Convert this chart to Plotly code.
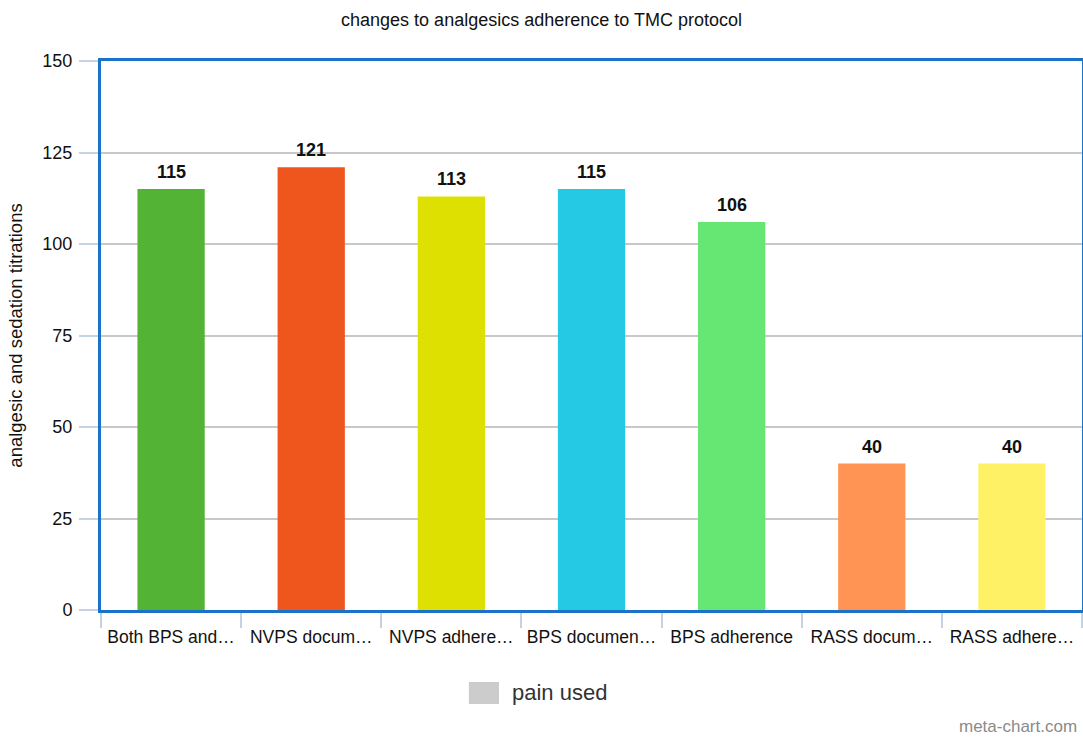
import plotly.graph_objects as go

# Chart data
categories = ["Both BPS and\u2026", "NVPS docum\u2026", "NVPS adhere\u2026", "BPS documen\u2026",
              "BPS adherence", "RASS docum\u2026", "RASS adhere\u2026"]
values = [115, 121, 113, 115, 106, 40, 40]
bar_colors = ["#52b334", "#ee561e", "#dde000", "#26c9e3", "#66e673", "#ff9455", "#fff166"]
y_ticks = [0, 25, 50, 75, 100, 125, 150]
series_name = "pain used"
legend_color = "#cccccc"

FONT = "Liberation Sans, Arial, sans-serif"
BORDER = "#1a72c9"
TICK = "#c3d3e3"

fig = go.Figure()
fig.add_trace(go.Bar(
    x=categories, y=values,
    marker=dict(color=bar_colors, line=dict(width=0)),
    width=0.48,
    showlegend=False,
))

# value labels above each bar
annotations = [
    dict(x=c, y=v, xref="x", yref="y", text=f"<b>{v}</b>", showarrow=False,
         xanchor="center", yanchor="bottom", yshift=5,
         font=dict(family=FONT, size=18, color="#111111"))
    for c, v in zip(categories, values)
]

# legend: swatch + label under the plot
annotations.append(dict(text=series_name, xref="paper", yref="paper",
                        x=0.417, y=-0.151, xanchor="left", yanchor="middle",
                        showarrow=False, font=dict(size=22, color="#333333", family=FONT)))
# watermark
annotations.append(dict(text="meta-chart.com", xref="paper", yref="paper",
                        x=0.997, y=-0.213, xanchor="right", yanchor="middle",
                        showarrow=False, font=dict(size=17, color="#8a8a8a", family=FONT)))

shapes = [dict(type="rect", xref="paper", yref="paper",
               x0=0.375, x1=0.4057, y0=-0.1712, y1=-0.1311,
               fillcolor=legend_color, line=dict(width=0))]

fig.update_layout(
    width=1083, height=738,
    margin=dict(l=101, r=1, t=61, b=128, autoexpand=False),
    paper_bgcolor="white", plot_bgcolor="white",
    font=dict(family=FONT, color="#111111"),
    title=dict(text="changes to analgesics adherence to TMC protocol",
               x=0.5, xanchor="center", y=0.973, yanchor="middle",
               font=dict(size=18, color="#111111")),
    bargap=0.52,
    showlegend=False,
    xaxis=dict(
        type="category", tickson="boundaries", tickangle=0, automargin=False,
        ticks="outside", ticklen=15, tickcolor=TICK, tickwidth=1.5,
        tickfont=dict(size=17.5, color="#111111"),
        ticklabelstandoff=9,
        showline=True, linecolor=BORDER, linewidth=3, mirror=True,
        showgrid=False,
    ),
    yaxis=dict(
        range=[0, 150], tickvals=y_ticks, automargin=False,
        ticks="outside", ticklen=19, tickcolor=TICK, tickwidth=1.5,
        tickfont=dict(size=18, color="#111111"),
        ticklabelstandoff=3,
        showgrid=True, gridcolor="#c8c8c8", gridwidth=1.5,
        showline=True, linecolor=BORDER, linewidth=3, mirror=True,
        zeroline=False,
        title=dict(text="analgesic and sedation titrations", font=dict(size=18.5, color="#111111"),
                   standoff=15),
    ),
    annotations=annotations,
    shapes=shapes,
)

fig.write_html("out.html")
